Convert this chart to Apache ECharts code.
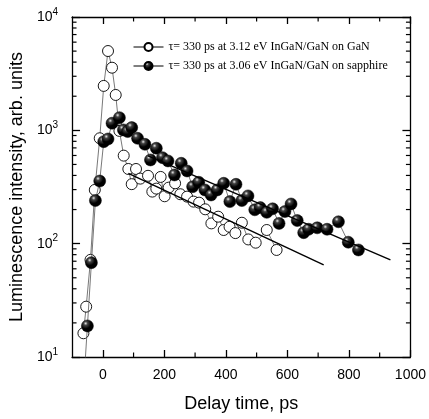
<!DOCTYPE html>
<html>
<head>
<meta charset="utf-8">
<script src="https://cdn.jsdelivr.net/npm/echarts@6/dist/echarts.min.js"></script>
<style>
html,body{margin:0;padding:0;background:#fff}
#main{width:429px;height:419px}
</style>
</head>
<body>
<div id="main"></div>
<script>
// delay (ps), intensity (arb. units)
var ganX=[-63,-54,-40,-26,-10,3,17,30,42,54,68,83,94,108,122,147,161,174,188,201,214,235,252,274,295,313,333,353,375,393,412,431,452,473,497,533,565]
var ganY=[16.2,27.8,72,298,851,2466,5010,3570,2052,989,598,456,335,456,375,397,288,306,388,262,312,341,273,260,235,230,201,151,173,132,141,124,153,109,102,132,88]
var sapX=[-60,-50,-37,-24,-10,3,17,30,54,67,81,94,113,137,155,174,194,212,233,255,274,292,312,332,352,372,393,413,433,452,472,494,512,533,552,573,592,612,632,653,669,697,729,766,798,831]
var sapY=[7,18.8,68,240,357,794,839,1156,1294,1009,975,1057,851,753,548,695,574,537,404,512,438,318,348,298,269,298,341,235,334,240,264,199,208,189,203,151,192,224,160,125,134,138,134,156,103,88]
// fitted exponential decays (tau = 330 ps)
var fitGaN=[[83,418],[718,65]]
var fitSap=[[147,594],[935,72]]
var xTicks=[0,200,400,600,800,1000]
var xMinor=[100,300,500,700,900]
var yMinor=[]
for(var k=1;k<4;k++){
	for(var m=2;m<10;m++) yMinor.push(m*Math.pow(10,k))
}
var nameGaN='τ= 330 ps at 3.12 eV InGaN/GaN on GaN'
var nameSap='τ= 330 ps at 3.06 eV InGaN/GaN on sapphire'

function pairs(xs,ys){
	var out=[]
	for(var i=0;i<xs.length;i++) out.push([xs[i],ys[i]])
	return out
}

var ball=new echarts.graphic.RadialGradient(0.36,0.3,0.7,[
	{offset:0,color:'#e8e8e8'},
	{offset:0.22,color:'#444444'},
	{offset:0.6,color:'#000000'},
	{offset:1,color:'#000000'}
])

var mychart=echarts.init(document.getElementById('main'))
var axisLine={show:true,onZero:false,lineStyle:{color:'#000',width:1.3}}
var option={
	animation:false,
	grid:{left:72,top:17,right:16,bottom:62},
	legend:{
		orient:'vertical',
		left:128,top:36,
		itemWidth:30,itemHeight:10,itemGap:7,
		data:[nameGaN,nameSap],
		lineStyle:{color:'#000',width:1},
		textStyle:{fontFamily:'Liberation Serif',fontSize:12,color:'#000'}
	},
	xAxis:[{
		type:'value',position:'bottom',min:-100,max:1000,
		axisLine:axisLine,
		axisTick:{inside:true,length:7,customValues:xTicks,lineStyle:{color:'#000',width:1.3}},
		axisLabel:{customValues:xTicks,margin:11,fontFamily:'Liberation Sans',fontSize:14,color:'#000',
			formatter:function(v){return String(v)}},
		splitLine:{show:false},
		name:'Delay time, ps',nameLocation:'middle',nameGap:38,
		nameTextStyle:{fontFamily:'Liberation Sans',fontSize:18,color:'#000'}
	},{
		type:'value',position:'top',min:-100,max:1000,
		axisLine:axisLine,
		axisTick:{inside:true,length:7,customValues:xTicks,lineStyle:{color:'#000',width:1.3}},
		axisLabel:{show:false},splitLine:{show:false}
	}],
	yAxis:[{
		type:'log',logBase:10,min:10,max:10000,position:'left',
		axisLine:axisLine,
		axisTick:{inside:true,length:8,lineStyle:{color:'#000',width:1.3}},
		axisLabel:{
			margin:14,
			formatter:function(v){return '{b|10}{s|'+Math.round(Math.log10(v))+'}'},
			rich:{
				b:{fontFamily:'Liberation Sans',fontSize:14,color:'#000'},
				s:{fontFamily:'Liberation Sans',fontSize:10,color:'#000',verticalAlign:'bottom',padding:[0,0,10,0]}
			}
		},
		splitLine:{show:false},
		name:'Luminescence intensity, arb. units',nameLocation:'middle',nameGap:40,
		nameTextStyle:{fontFamily:'Liberation Sans',fontSize:18,color:'#000'}
	},{
		type:'log',logBase:10,min:10,max:10000,position:'right',
		axisLine:axisLine,
		axisTick:{inside:true,length:8,lineStyle:{color:'#000',width:1.3}},
		axisLabel:{show:false},splitLine:{show:false}
	}],
	series:[{
		name:nameGaN,type:'line',data:pairs(ganX,ganY),
		symbol:'circle',symbolSize:11,showSymbol:true,
		lineStyle:{color:'#555',width:0.8},
		itemStyle:{color:'#fff',borderColor:'#000',borderWidth:0.9},
		z:3
	},{
		name:nameSap,type:'line',data:pairs(sapX,sapY),
		symbol:'circle',symbolSize:12,
		lineStyle:{color:'#555',width:0.8},
		itemStyle:{color:ball,borderColor:'#000',borderWidth:0.5},
		z:4
	},{
		type:'line',data:fitGaN,symbol:'none',
		lineStyle:{color:'#000',width:1.4},z:5
	},{
		type:'line',data:fitSap,symbol:'none',
		lineStyle:{color:'#000',width:1.4},z:5
	}]
}
mychart.setOption(option)

// minor ticks on all four sides
var x0=mychart.convertToPixel({xAxisIndex:0},-100)
var x1=mychart.convertToPixel({xAxisIndex:0},1000)
var y0=mychart.convertToPixel({yAxisIndex:0},10)
var y1=mychart.convertToPixel({yAxisIndex:0},10000)
var g=[]
var st={stroke:'#000',lineWidth:1.2}
yMinor.forEach(function(v){
	var py=mychart.convertToPixel({yAxisIndex:0},v)
	g.push({type:'line',shape:{x1:x0,y1:py,x2:x0+4.5,y2:py},style:st,z:10})
	g.push({type:'line',shape:{x1:x1,y1:py,x2:x1-4.5,y2:py},style:st,z:10})
})
xMinor.forEach(function(v){
	var px=mychart.convertToPixel({xAxisIndex:0},v)
	g.push({type:'line',shape:{x1:px,y1:y0,x2:px,y2:y0-4.5},style:st,z:10})
	g.push({type:'line',shape:{x1:px,y1:y1,x2:px,y2:y1+4.5},style:st,z:10})
})
mychart.setOption({graphic:g})
</script>
</body>
</html>
